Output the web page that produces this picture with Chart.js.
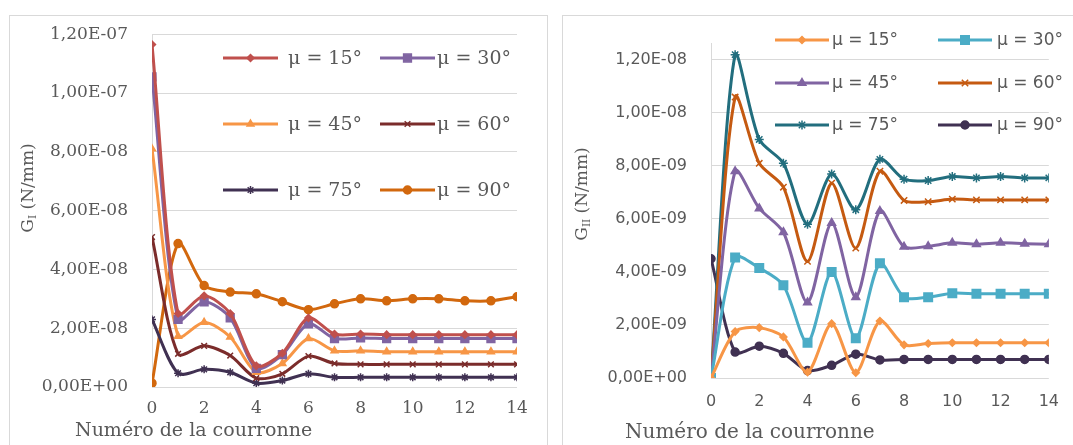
<!DOCTYPE html>
<html><head><meta charset="utf-8">
<script src="https://cdn.jsdelivr.net/npm/chart.js@4.4.1/dist/chart.umd.min.js"></script>
<style>
html,body{margin:0;padding:0;background:#fff;width:1073px;height:445px;overflow:hidden;position:relative}
.box{position:absolute;border:1px solid #d9d9d9;box-sizing:border-box}
.wrap{position:absolute;top:0;height:445px}
canvas{position:absolute;left:0;top:0}
.t{position:absolute;color:#595959;white-space:nowrap;font-family:"DejaVu Serif",serif}
.rot{transform:rotate(-90deg);text-align:center;width:160px;height:20px;line-height:20px}
sub{font-size:0.62em;vertical-align:-0.3em;line-height:0}
</style></head><body>
<div class="box" style="left:9px;top:15px;width:539px;height:470px"></div>
<div class="box" style="left:562px;top:15px;width:540px;height:470px"></div>
<div class="wrap" style="left:0;width:555px"><canvas id="c1" width="555" height="445"></canvas></div>
<div class="wrap" style="left:555px;width:518px"><canvas id="c2" width="518" height="445"></canvas></div>
<div class="t" style="left:75px;top:420px;font-size:19px;line-height:19px">Numéro de la courronne</div>
<div class="t" style="left:625px;top:421px;font-size:20px;line-height:20px">Numéro de la courronne</div>
<div class="t rot" style="left:-53px;top:178px;font-size:17px">G<sub>I</sub> (N/mm)</div>
<div class="t rot" style="left:501px;top:184px;font-size:17px">G<sub>II</sub> (N/mm)</div>
<script>
// ---- data ----
const xValues = [0,1,2,3,4,5,6,7,8,9,10,11,12,13,14];
const xTickValues = [0,2,4,6,8,10,12,14];
const xTickLabels = ['0','2','4','6','8','10','12','14'];
const seriesLabels = ['μ = 15°','μ = 30°','μ = 45°','μ = 60°','μ = 75°','μ = 90°'];

const giTickValues = [0,2e-8,4e-8,6e-8,8e-8,1e-7,1.2e-7];
const giTickLabels = ['0,00E+00','2,00E-08','4,00E-08','6,00E-08','8,00E-08','1,00E-07','1,20E-07'];
const giiTickValues = [0,2e-9,4e-9,6e-9,8e-9,1e-8,1.2e-8];
const giiTickLabels = ['0,00E+00','2,00E-09','4,00E-09','6,00E-09','8,00E-09','1,00E-08','1,20E-08'];

const gi15 = [11.65e-8,2.5e-8,3.1e-8,2.5e-8,0.72e-8,1.15e-8,2.35e-8,1.8e-8,1.8e-8,1.78e-8,1.78e-8,1.78e-8,1.78e-8,1.78e-8,1.78e-8];
const gi30 = [10.55e-8,2.3e-8,2.9e-8,2.35e-8,0.63e-8,1.1e-8,2.15e-8,1.65e-8,1.67e-8,1.65e-8,1.65e-8,1.65e-8,1.65e-8,1.65e-8,1.65e-8];
const gi45 = [8.1e-8,1.73e-8,2.2e-8,1.7e-8,0.5e-8,0.8e-8,1.65e-8,1.23e-8,1.23e-8,1.2e-8,1.2e-8,1.2e-8,1.2e-8,1.2e-8,1.2e-8];
const gi60 = [5.1e-8,1.13e-8,1.4e-8,1.07e-8,0.3e-8,0.45e-8,1.05e-8,0.8e-8,0.77e-8,0.77e-8,0.77e-8,0.77e-8,0.77e-8,0.77e-8,0.77e-8];
const gi75 = [2.3e-8,0.47e-8,0.6e-8,0.5e-8,0.13e-8,0.22e-8,0.45e-8,0.33e-8,0.33e-8,0.33e-8,0.33e-8,0.33e-8,0.33e-8,0.33e-8,0.33e-8];
const gi90 = [0.13e-8,4.88e-8,3.45e-8,3.23e-8,3.17e-8,2.9e-8,2.63e-8,2.83e-8,3.0e-8,2.93e-8,3.0e-8,3.0e-8,2.93e-8,2.93e-8,3.07e-8];

const gii15 = [0,1.75e-9,1.9e-9,1.55e-9,0.22e-9,2.05e-9,0.2e-9,2.15e-9,1.25e-9,1.3e-9,1.33e-9,1.33e-9,1.33e-9,1.33e-9,1.33e-9];
const gii30 = [0,4.55e-9,4.15e-9,3.5e-9,1.33e-9,4.0e-9,1.5e-9,4.33e-9,3.05e-9,3.05e-9,3.2e-9,3.18e-9,3.18e-9,3.18e-9,3.18e-9];
const gii45 = [0,7.8e-9,6.4e-9,5.5e-9,2.85e-9,5.85e-9,3.05e-9,6.3e-9,4.95e-9,4.97e-9,5.1e-9,5.05e-9,5.1e-9,5.07e-9,5.05e-9];
const gii60 = [0,10.6e-9,8.1e-9,7.2e-9,4.4e-9,7.35e-9,4.9e-9,7.8e-9,6.7e-9,6.65e-9,6.75e-9,6.72e-9,6.72e-9,6.72e-9,6.72e-9];
const gii75 = [0,12.2e-9,9.0e-9,8.1e-9,5.8e-9,7.7e-9,6.35e-9,8.25e-9,7.5e-9,7.45e-9,7.6e-9,7.55e-9,7.6e-9,7.55e-9,7.55e-9];
const gii90 = [4.5e-9,0.98e-9,1.2e-9,0.93e-9,0.28e-9,0.48e-9,0.9e-9,0.68e-9,0.7e-9,0.7e-9,0.7e-9,0.7e-9,0.7e-9,0.7e-9,0.7e-9];

// ---- styles ----
const leftStyles = [
  {c:'#C0504D', s:'rectRot', r:3.5},
  {c:'#8064A2', s:'rect', r:5.5},
  {c:'#F79646', s:'triangle', r:4},
  {c:'#7B2C2B', s:'crossRot', r:4},
  {c:'#403152', s:'star', r:4},
  {c:'#D2680E', s:'circle', r:4}
];
const rightStyles = [
  {c:'#F79646', s:'rectRot', r:3.5},
  {c:'#4BACC6', s:'rect', r:6},
  {c:'#8064A2', s:'triangle', r:4.5},
  {c:'#C55A11', s:'crossRot', r:4.5},
  {c:'#226E7E', s:'star', r:4.5},
  {c:'#403152', s:'circle', r:4}
];

function makeDatasets(series, styles){
  return series.map((vals, k) => ({
    label: seriesLabels[k],
    data: xValues.map((x, i) => ({x: x, y: vals[i]})),
    borderColor: styles[k].c,
    backgroundColor: styles[k].c,
    pointBackgroundColor: styles[k].c,
    pointBorderColor: styles[k].c,
    pointStyle: styles[k].s,
    pointRadius: styles[k].r,
    pointHoverRadius: styles[k].r,
    pointBorderWidth: 1.5,
    borderWidth: 3,
    tension: 0.28,
    fill: false
  }));
}

const gridLegend = {
  id: 'gridLegend',
  afterDraw(chart, args, o) {
    const ctx = chart.ctx;
    ctx.save();
    chart.data.datasets.forEach((ds, i) => {
      const row = Math.floor(i / 2), col = i % 2;
      const y = o.rows[row];
      const x0 = o.lineX[col], x1 = x0 + o.lineLen;
      ctx.strokeStyle = ds.borderColor; ctx.lineWidth = ds.borderWidth; ctx.lineCap = 'butt';
      ctx.beginPath(); ctx.moveTo(x0, y); ctx.lineTo(x1, y); ctx.stroke();
      ctx.fillStyle = ds.pointBackgroundColor; ctx.strokeStyle = ds.pointBorderColor; ctx.lineWidth = 1.5;
      Chart.helpers.drawPoint(ctx, {pointStyle: ds.pointStyle, radius: ds.pointRadius, borderWidth: 1.5, rotation: 0}, (x0 + x1) / 2, y);
      ctx.fillStyle = o.color; ctx.font = o.font; ctx.textBaseline = 'middle'; ctx.textAlign = 'left';
      ctx.fillText(ds.label, o.textX[col], y + 1);
    });
    ctx.restore();
  }
};

function makeChart(id, series, styles, cfg){
  return new Chart(document.getElementById(id), {
    type: 'line',
    data: { datasets: makeDatasets(series, styles) },
    plugins: [gridLegend],
    options: {
      responsive: false,
      animation: false,
      layout: { padding: { left: 0, top: cfg.top, right: cfg.right, bottom: 0 } },
      plugins: {
        legend: { display: false },
        tooltip: { enabled: false },
        gridLegend: cfg.legend
      },
      scales: {
        x: {
          type: 'linear', min: 0, max: 14,
          afterBuildTicks: s => { s.ticks = xTickValues.map(v => ({value: v})); },
          afterFit: s => { s.height = cfg.xh; },
          grid: { display: false, drawTicks: false },
          border: { display: false },
          ticks: { padding: cfg.xpad, color: '#595959', font: cfg.tickFont, maxRotation: 0, autoSkip: false,
                   callback: (v, i) => xTickLabels[i] }
        },
        y: {
          min: 0, max: cfg.ymax,
          afterBuildTicks: s => { s.ticks = cfg.yVals.map(v => ({value: v})); },
          afterFit: s => { s.width = cfg.yw; },
          grid: { color: '#d9d9d9', lineWidth: 1, drawTicks: false },
          border: { display: true, color: '#d9d9d9', width: 1 },
          ticks: { padding: 24, color: '#595959', font: cfg.tickFont, autoSkip: false,
                   callback: (v, i) => cfg.yLabels[i] }
        }
      }
    }
  });
}

makeChart('c1', [gi15, gi30, gi45, gi60, gi75, gi90], leftStyles, {
  top: 27, right: 38, xh: 58, yw: 152, xpad: 11, ymax: 1.2e-7,
  yVals: giTickValues, yLabels: giTickLabels,
  tickFont: { family: 'DejaVu Serif', size: 17 },
  legend: { rows: [58, 124, 190], lineX: [223, 380], lineLen: 55, textX: [288, 437],
            color: '#595959', font: '19px "DejaVu Serif"' }
});
makeChart('c2', [gii15, gii30, gii45, gii60, gii75, gii90], rightStyles, {
  top: 43, right: 16, xh: 67, yw: 156, xpad: 14, ymax: 1.264e-8,
  yVals: giiTickValues, yLabels: giiTickLabels,
  tickFont: { family: 'DejaVu Sans', size: 16 },
  legend: { rows: [40, 83, 125], lineX: [220, 383], lineLen: 54, textX: [277, 442],
            color: '#595959', font: '17px "DejaVu Sans"' }
});
</script>
</body></html>
